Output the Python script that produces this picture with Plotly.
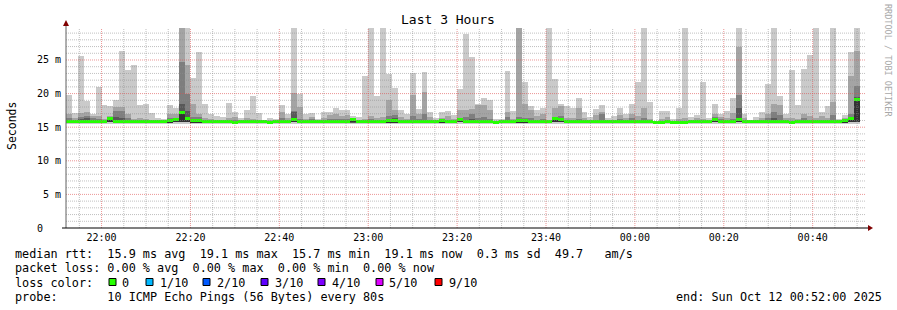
import plotly.graph_objects as go
from datetime import datetime, timedelta

# ---------------- data ----------------
TITLE = "Last 3 Hours"
START = datetime(2025, 10, 11, 21, 52, 0)
END = datetime(2025, 10, 12, 0, 52, 0)
STEP_S = 80          # probe interval (s)
MIN_RTT = 15.6       # floor of the smoke (ms)
Y_MAX = 29.76        # top of the graph (ms)

# per-step values in ms (134 steps)
rtt_max = [
    19.8, 17.1, 25.6, 18.9, 17.0, 21.0, 18.35, 18.2, 19.0, 26.4,
    23.5, 24.3, 18.35, 18.4, 17.1, 16.3, 16.2, 18.35, 17.9, 31.0,
    31.0, 22.3, 26.2, 18.4, 16.9, 16.7, 16.5, 18.6, 17.2, 16.3,
    17.6, 19.6, 17.1, 16.1, 16.3, 16.2, 18.35, 16.9, 31.0, 20.0,
    16.9, 17.1, 16.2, 17.2, 17.2, 17.8, 17.5, 17.6, 16.7, 16.5,
    22.6, 31.0, 19.6, 31.0, 22.9, 20.8, 17.6, 16.9, 23.0, 17.7,
    23.2, 17.3, 16.4, 17.3, 17.4, 16.8, 20.7, 28.9, 25.4, 18.4,
    19.3, 19.1, 16.2, 16.2, 23.4, 17.4, 31.0, 21.7, 18.2, 17.6,
    17.9, 31.0, 22.1, 18.4, 18.1, 17.9, 19.3, 17.3, 16.5, 17.7,
    18.3, 16.4, 16.6, 17.9, 17.0, 18.4, 21.7, 31.0, 18.7, 15.9,
    17.4, 17.4, 16.2, 17.9, 31.0, 16.5, 16.8, 21.7, 16.4, 18.4,
    16.9, 17.4, 19.3, 31.0, 17.0, 16.1, 16.5, 17.3, 21.4, 31.0,
    19.6, 17.0, 23.5, 18.35, 23.7, 25.8, 31.0, 17.2, 18.2, 31.0,
    16.2, 16.8, 26.2, 31.0,
]
smoke2 = [
    16.9, 16.4, 17.1, 17.3, 16.7, 16.7, 16.2, 16.7, 18.0, 18.0,
    16.9, 16.2, 16.3, 16.2, 16.1, 16.0, 16.0, 17.0, 17.0, 31.0,
    24.3, 18.4, 17.0, 16.3, 16.2, 16.1, 16.0, 16.3, 16.5, 16.0,
    16.3, 16.2, 16.1, 15.9, 16.0, 16.0, 17.3, 16.3, 20.1, 18.0,
    16.2, 16.5, 15.9, 16.3, 16.8, 16.9, 16.6, 16.8, 16.2, 16.1,
    16.2, 16.7, 16.3, 16.5, 19.0, 17.6, 16.5, 16.2, 19.8, 17.0,
    20.3, 16.5, 16.0, 16.4, 16.6, 16.2, 17.6, 17.6, 17.7, 18.3,
    18.3, 17.6, 15.9, 16.0, 17.3, 16.2, 31.0, 18.4, 17.6, 16.6,
    17.0, 16.1, 17.8, 18.1, 16.4, 16.3, 17.9, 16.3, 16.1, 16.8,
    17.3, 16.1, 16.1, 16.8, 16.4, 16.9, 16.7, 17.9, 16.2, 15.8,
    16.2, 16.5, 15.9, 16.2, 16.4, 16.1, 16.3, 16.2, 16.0, 17.0,
    16.5, 16.3, 17.1, 27.0, 16.3, 15.9, 16.1, 16.4, 17.0, 18.4,
    18.3, 16.4, 16.3, 16.2, 17.0, 16.6, 16.3, 16.6, 16.4, 18.7,
    15.9, 16.4, 22.6, 26.4,
]
smoke3 = [
    16.4, 16.1, 16.5, 16.7, 16.3, 16.2, 16.0, 16.4, 17.4, 17.4,
    16.3, 16.0, 16.0, 16.0, 15.9, 15.9, 15.9, 16.4, 16.3, 24.7,
    19.9, 16.5, 16.5, 16.0, 16.0, 15.9, 15.9, 16.0, 16.1, 15.9,
    16.0, 15.9, 15.9, 15.8, 15.8, 15.9, 16.3, 16.0, 17.4, 16.2,
    15.9, 16.2, 15.8, 16.0, 16.2, 16.2, 16.2, 16.2, 16.0, 15.9,
    15.9, 16.2, 16.0, 16.1, 16.6, 16.8, 16.1, 15.9, 16.7, 16.2,
    17.0, 16.0, 15.9, 16.0, 16.1, 15.9, 16.4, 16.5, 16.9, 16.4,
    16.5, 16.2, 15.8, 15.9, 16.5, 15.9, 16.5, 16.4, 16.3, 16.1,
    16.2, 15.9, 16.4, 16.7, 16.0, 16.0, 16.2, 15.9, 15.9, 16.1,
    16.9, 15.9, 15.9, 16.2, 16.0, 16.3, 16.1, 16.3, 15.9, 15.8,
    15.9, 16.0, 15.8, 15.9, 15.9, 15.9, 16.0, 15.9, 15.9, 16.5,
    16.2, 15.9, 16.2, 19.8, 15.9, 15.8, 15.9, 16.0, 16.3, 17.3,
    16.8, 16.0, 15.9, 15.9, 16.3, 16.1, 16.0, 16.0, 16.0, 16.8,
    15.8, 16.1, 17.0, 21.1,
]
smoke4 = [
    16.1, 15.9, 16.2, 16.3, 16.0, 16.0, 15.9, 16.1, 16.5, 16.4,
    16.0, 15.9, 15.9, 15.9, 15.8, 15.8, 15.8, 16.1, 16.1, 18.5,
    17.4, 16.1, 16.2, 15.9, 15.9, 15.8, 15.8, 15.9, 15.9, 15.8,
    15.9, 15.8, 15.8, 15.8, 15.7, 15.8, 16.0, 15.9, 17.3, 15.9,
    15.8, 15.9, 15.8, 15.9, 15.9, 16.0, 15.9, 15.9, 15.9, 15.8,
    15.8, 15.9, 15.9, 15.9, 16.2, 16.3, 15.9, 15.8, 16.0, 15.9,
    16.0, 15.9, 15.8, 15.9, 15.9, 15.8, 16.1, 16.1, 16.2, 16.0,
    16.0, 15.9, 15.7, 15.8, 16.0, 15.8, 16.1, 16.0, 16.0, 15.9,
    15.9, 15.8, 16.3, 16.2, 15.9, 15.9, 15.9, 15.8, 15.8, 15.9,
    16.1, 15.8, 15.8, 15.9, 15.9, 16.0, 15.9, 16.0, 15.8, 15.7,
    15.8, 15.8, 15.7, 15.8, 15.8, 15.8, 15.8, 15.8, 15.8, 16.0,
    15.9, 15.8, 16.0, 17.9, 15.8, 15.7, 15.8, 15.9, 15.9, 16.4,
    16.0, 15.9, 15.8, 15.8, 16.0, 15.9, 15.9, 15.9, 15.9, 16.1,
    15.7, 15.9, 16.3, 19.5,
]
median = [
    15.9, 15.9, 15.8, 15.9, 15.9, 15.9, 15.9, 16.3, 15.9, 15.9,
    15.9, 15.9, 15.9, 15.9, 15.8, 15.8, 15.9, 16.0, 16.1, 17.2,
    16.3, 16.0, 16.0, 15.9, 15.9, 15.8, 15.8, 15.8, 15.7, 15.9,
    15.9, 15.9, 15.9, 15.9, 15.7, 15.9, 15.9, 15.9, 16.1, 15.8,
    15.9, 15.9, 15.8, 15.9, 15.9, 15.9, 15.9, 15.9, 16.1, 15.8,
    15.9, 15.9, 15.9, 15.9, 16.0, 16.0, 15.9, 15.8, 15.9, 15.9,
    15.9, 15.9, 15.8, 16.0, 15.9, 15.8, 16.2, 15.9, 15.9, 15.9,
    15.8, 15.9, 15.7, 15.8, 15.9, 15.8, 16.0, 16.0, 15.9, 15.8,
    15.8, 15.9, 16.3, 16.2, 15.8, 15.8, 15.8, 15.8, 15.8, 15.9,
    15.9, 15.8, 15.8, 15.9, 15.8, 15.9, 15.9, 15.9, 15.9, 15.7,
    15.7, 15.8, 15.7, 15.7, 15.7, 15.8, 15.8, 15.9, 15.8, 16.1,
    15.9, 15.9, 15.9, 16.1, 15.8, 15.8, 15.8, 15.9, 15.9, 15.9,
    15.9, 15.9, 15.7, 15.8, 15.9, 15.9, 15.9, 15.9, 15.8, 15.9,
    15.8, 16.0, 16.3, 19.1,
]

y_ticks = [0, 5, 10, 15, 20, 25]
y_tick_labels = ["0   ", " 5 m", "10 m", "15 m", "20 m", "25 m"]

stats_rtt = "median rtt:  15.9 ms avg  19.1 ms max  15.7 ms min  19.1 ms now  0.3 ms sd  49.7   am/s"
stats_loss = "packet loss: 0.00 % avg  0.00 % max  0.00 % min  0.00 % now"
loss_title = "loss color:"
loss_labels = ["0", "1/10", "2/10", "3/10", "4/10", "5/10", "9/10"]
loss_colors = ["#26ff00", "#00b8ff", "#0059ff", "#5e00ff", "#7e00ff", "#dd00ff", "#ff0000"]
probe_text = "probe:       10 ICMP Echo Pings (56 Bytes) every 80s"
end_text = "end: Sun Oct 12 00:52:00 2025"
y_title = "Seconds"
watermark = "RRDTOOL / TOBI OETIKER"

# ---------------- geometry / style ----------------
W, H = 897, 310
L, R, T, B = 66, 31, 28, 82
PW, PH = W - L - R, H - T - B
MONO = "DejaVu Sans Mono"

def px(x):
    return (x - L) / PW

def py(y):
    return (H - B - y) / PH

smoke_colors = ["#cacaca", "#a4a4a4", "#7e7e7e", "#585858", "#323232"]
smoke_bases = [15.55, 15.7, 15.7, 15.7, 15.75]
layers = [rtt_max, smoke2, smoke3, smoke4, median]

n = len(median)
times = [START + timedelta(seconds=STEP_S * (i + 0.5)) for i in range(n)]
width_ms = STEP_S * 1000

fig = go.Figure()
for vals, col, base in zip(layers, smoke_colors, smoke_bases):
    fig.add_trace(go.Bar(
        x=times, y=[v - base for v in vals], base=[base] * n,
        width=[width_ms] * n, marker=dict(color=col, line=dict(width=0)),
        hoverinfo="skip", showlegend=False,
    ))
# median band
fig.add_trace(go.Bar(
    x=times, y=[0.44] * n, base=[m - 0.22 for m in median],
    width=[width_ms] * n, marker=dict(color="#26ff00", line=dict(width=0)),
    hoverinfo="skip", showlegend=False,
))

shapes = []
MINOR = "rgba(140,140,140,0.55)"
MAJOR = "rgba(222,79,79,0.6)"
DOT = "1px,1px"
# vertical grid (5 min minor, 20 min major)
t = datetime(2025, 10, 11, 21, 55, 0)
while t < END:
    major = (t.minute % 20 == 0)
    shapes.append(dict(type="line", xref="x", yref="paper", x0=t, x1=t, y0=0, y1=1,
                       line=dict(color=MAJOR if major else MINOR, width=1, dash=DOT),
                       layer="above"))
    t += timedelta(minutes=5)
# horizontal grid (1 ms minor, 5 ms major)
for v in range(1, 30):
    major = (v % 5 == 0)
    shapes.append(dict(type="line", xref="paper", yref="y", x0=0, x1=1, y0=v, y1=v,
                       line=dict(color=MAJOR if major else MINOR, width=1, dash=DOT),
                       layer="above"))
# axes
shapes.append(dict(type="line", xref="paper", yref="paper", x0=px(66), x1=px(66),
                   y0=py(228), y1=py(23), line=dict(color="#606060", width=1), layer="above"))
shapes.append(dict(type="line", xref="paper", yref="paper", x0=px(62), x1=px(870),
                   y0=py(228), y1=py(228), line=dict(color="#000000", width=1), layer="above"))
ARROW = "#800000"
shapes.append(dict(type="path", xref="paper", yref="paper",
                   path=f"M {px(868)},{py(225)} L {px(873)},{py(228)} L {px(868)},{py(231)} Z",
                   fillcolor=ARROW, line=dict(width=0), layer="above"))
shapes.append(dict(type="path", xref="paper", yref="paper",
                   path=f"M {px(63)},{py(26)} L {px(66)},{py(20)} L {px(69)},{py(26)} Z",
                   fillcolor=ARROW, line=dict(width=0), layer="above"))

annotations = []
def txt(x, y, s, size=11.8, anchor="left", color="#000000", angle=0):
    annotations.append(dict(x=px(x), y=py(y), xref="paper", yref="paper", text=s,
                            showarrow=False, xanchor=anchor, yanchor="middle",
                            borderpad=0, borderwidth=0, textangle=angle,
                            font=dict(family=MONO, size=size, color=color)))

txt(448, 20, TITLE, size=13, anchor="center")
txt(12, 126, y_title, size=11.5, anchor="center", angle=-90)
txt(888, 60, watermark, size=8.5, anchor="center", color="#a8a8a8", angle=90)
txt(15.4, 254, stats_rtt)
txt(15.4, 268.3, stats_loss)
txt(15.4, 282.7, loss_title)
sq_x = [109, 146, 203, 261, 318, 376, 435]
lab_x = [122.7, 161, 218, 276, 333, 390, 450]
for col, lab, sx, lx in zip(loss_colors, loss_labels, sq_x, lab_x):
    shapes.append(dict(type="rect", xref="paper", yref="paper",
                       x0=px(sx), x1=px(sx + 7), y0=py(278.5), y1=py(285.5),
                       fillcolor=col, line=dict(color="#000000", width=1), layer="above"))
    txt(lx - 0.6, 282.7, lab)
txt(15.4, 296.7, probe_text)
txt(882, 296.7, end_text, anchor="right")

fig.update_layout(
    width=W, height=H, margin=dict(l=L, r=R, t=T, b=B, pad=0),
    paper_bgcolor="#ffffff", plot_bgcolor="#ffffff",
    barmode="overlay", bargap=0,
    shapes=shapes, annotations=annotations,
    font=dict(family=MONO, color="#000000"),
    xaxis=dict(type="date", range=[START, END], tickformat="%H:%M",
               tick0=datetime(2025, 10, 11, 22, 0, 0), dtick=20 * 60 * 1000,
               showgrid=False, zeroline=False, showline=False, ticks="",
               ticklabelstandoff=2, tickfont=dict(family=MONO, size=10, color="#000000"),
               fixedrange=True),
    yaxis=dict(range=[0, Y_MAX], tickvals=y_ticks, ticktext=y_tick_labels,
               showgrid=False, zeroline=False, showline=False, ticks="",
               ticklabelstandoff=4, tickfont=dict(family=MONO, size=10, color="#000000"),
               fixedrange=True),
)

fig.write_html("out.html")
